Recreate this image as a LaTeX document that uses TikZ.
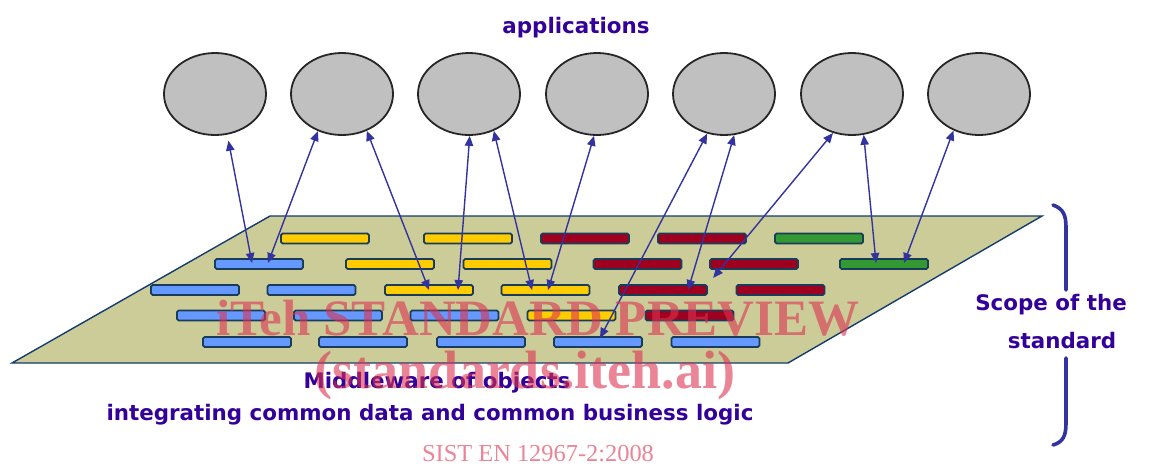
\documentclass[tikz,border=0pt]{standalone}
\usepackage{fontspec}
\setmainfont{Liberation Serif}
\newfontfamily\lblfont{DejaVu Sans}
\usetikzlibrary{shapes.geometric,arrows.meta,calc}
\definecolor{ink}{RGB}{51,0,153}
\definecolor{arr}{RGB}{51,51,160}
\definecolor{planefill}{RGB}{204,204,153}
\definecolor{planeline}{RGB}{20,60,110}
\definecolor{barblue}{RGB}{102,153,255}
\definecolor{baryellow}{RGB}{255,204,0}
\definecolor{barred}{RGB}{160,0,32}
\definecolor{bargreen}{RGB}{51,153,51}
\definecolor{barline}{RGB}{25,60,90}
\definecolor{wm}{RGB}{220,50,80}
\definecolor{appgray}{RGB}{192,192,192}
\begin{document}
\begin{tikzpicture}[x=0.5pt,y=-0.5pt,
  app/.style={ellipse,draw=black!85,line width=0.9pt,fill=appgray,minimum width=51pt,minimum height=41pt,inner sep=0pt},
  bar/.style={rectangle,draw=barline,line width=0.9pt,rounded corners=0.8pt,minimum width=44pt,minimum height=5pt,inner sep=0pt},
  bb/.style={bar,fill=barblue},
  by/.style={bar,fill=baryellow},
  br/.style={bar,fill=barred},
  bg/.style={bar,fill=bargreen},
  link/.style={draw=arr,line width=0.7pt,>={Triangle[length=5pt,width=4.2pt]},<->},
  ttl/.style={text=ink,font=\lblfont\bfseries\fontsize{10.7}{12}\selectfont,inner sep=0pt},
  wmark/.style={text=wm,text opacity=0.6,inner sep=0pt},
  bracestroke/.style={draw=arr,line width=1.8pt,line cap=round}
]
\useasboundingbox (0,0) rectangle (1154,467);

% plane
\filldraw[fill=planefill,draw=planeline,line width=0.7pt]
  (270,216) -- (1042,216) -- (788,363) -- (12,363) -- cycle;

% bars row 1
\node[by] (b11) at (325,238.5) {};
\node[by] (b12) at (468,238.5) {};
\node[br] (b13) at (585,238.5) {};
\node[br] (b14) at (702,238.5) {};
\node[bg] (b15) at (819,238.5) {};
% row 2
\node[bb] (b21) at (259,264) {};
\node[by] (b22) at (390,264) {};
\node[by] (b23) at (507.5,264) {};
\node[br] (b24) at (637.5,264) {};
\node[br] (b25) at (754,264) {};
\node[bg] (b26) at (884,264) {};
% row 3
\node[bb] (b31) at (195,290) {};
\node[bb] (b32) at (311.5,290) {};
\node[by] (b33) at (429,290) {};
\node[by] (b34) at (545.5,290) {};
\node[br] (b35) at (663,290) {};
\node[br] (b36) at (780.5,290) {};
% row 4
\node[bb] (b41) at (221,315.5) {};
\node[bb] (b42) at (338,315.5) {};
\node[bb] (b43) at (454.5,315.5) {};
\node[by] (b44) at (571.5,315.5) {};
\node[br] (b45) at (689.5,315.5) {};
% row 5
\node[bb] (b51) at (247,342) {};
\node[bb] (b52) at (363,342) {};
\node[bb] (b53) at (481,342) {};
\node[bb] (b54) at (598,342) {};
\node[bb] (b55) at (715.5,342) {};

% applications
\node[app] (e1) at (215,94) {};
\node[app] (e2) at (342,94) {};
\node[app] (e3) at (469,94) {};
\node[app] (e4) at (597,94) {};
\node[app] (e5) at (724,94) {};
\node[app] (e6) at (852,94) {};
\node[app] (e7) at (979,94) {};

% connectors
\draw[link] ($(e1.287)+(1,6)$) -- ($(b21.center)+(-7,-1)$);
\draw[link] (e2.237) -- ($(b21.center)+(9,-1)$);
\draw[link] (e2.304) -- (b33.center);
\draw[link] (e3.271) -- ($(b33.center)+(29,0)$);
\draw[link] (e3.304) -- ($(b34.center)+(-13.5,0)$);
\draw[link] (e4.266) -- ($(b34.center)+(2.5,0)$);
\draw[link] (e5.247) -- ($(b54.center)+(2,-4)$);
\draw[link] (e5.284) -- ($(b35.center)+(25,0)$);
\draw[link] (e6.244) -- ($(b25.south west)+(4,8)$);
\draw[link] (e6.286) -- ($(b26.center)+(-8,-1)$);
\draw[link] (e7.235) -- ($(b26.center)+(20,-1)$);

% texts
\node[ttl] (tapp) at (576,28) {applications};
\node[ttl] (tmid) at (437,383) {Middleware of objects};
\node[ttl] (tint) at (430,415) {integrating common data and common business logic};
\node[ttl] (tscope) at (1051,305) {Scope of the};
\node[ttl] (tstd) at (1062,341) {standard};

% brace
\draw[bracestroke] (1053,205) .. controls (1064,209) and (1066,216) .. (1066,228) -- (1066,290);
\draw[bracestroke] (1066,358) -- (1066,423) .. controls (1066,436) and (1063,442) .. (1053,445);

% watermark
\node[wmark,font=\bfseries\fontsize{25.5}{28}\selectfont] (w1) at (538,318) {iTeh STANDARD PREVIEW};
\node[wmark,font=\bfseries\fontsize{27}{30}\selectfont] (w2) at (525,376) {(standards.iteh.ai)};
\node[wmark,font=\fontsize{12.2}{14}\selectfont] (w3) at (538,454) {SIST EN 12967-2:2008};
\end{tikzpicture}
\end{document}
